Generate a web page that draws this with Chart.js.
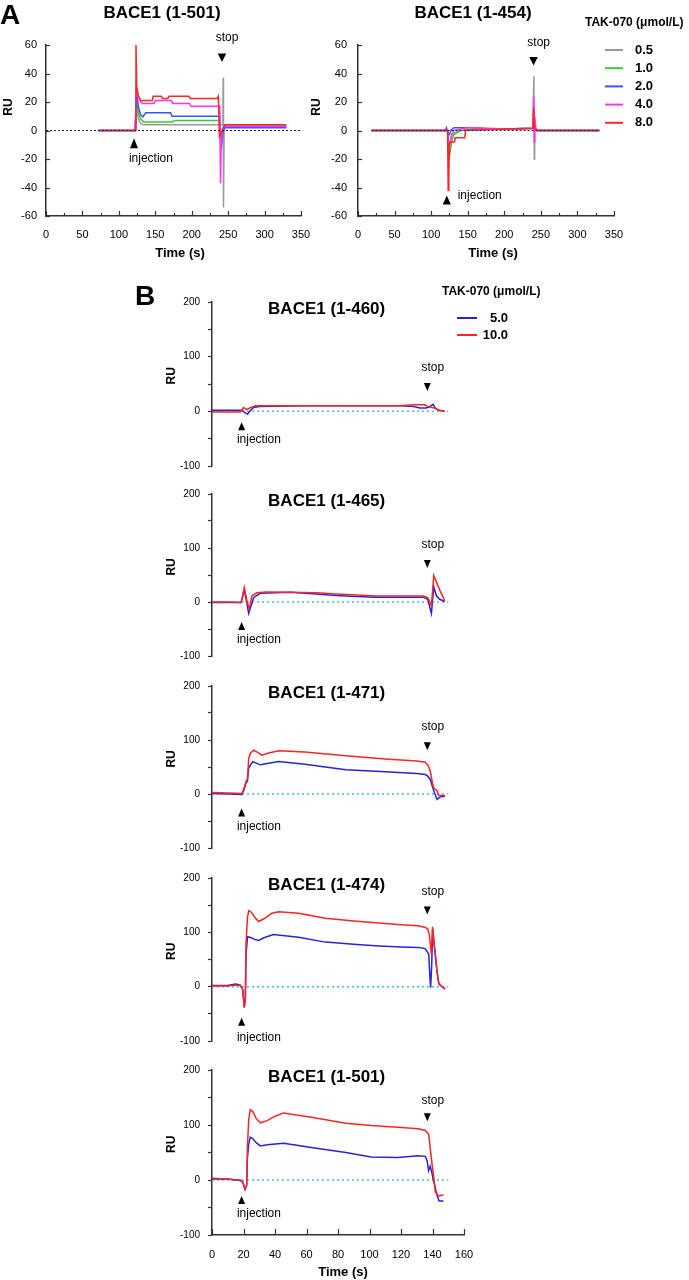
<!DOCTYPE html>
<html><head><meta charset="utf-8">
<script src="https://cdn.jsdelivr.net/npm/chart.js@4.4.0/dist/chart.umd.min.js"></script>
<style>
html,body{margin:0;padding:0;background:#fff;}
#page{position:relative;width:689px;height:1280px;overflow:hidden;background:#fff;}
canvas{position:absolute;}
</style></head><body>
<div id="page">
<canvas id="cA1" width="330" height="270" style="left:0px;top:0px"></canvas>
<canvas id="cA2" width="384" height="270" style="left:305px;top:0px"></canvas>
<canvas id="cB1" width="559" height="205" style="left:130px;top:275px"></canvas>
<canvas id="cB2" width="559" height="190" style="left:130px;top:480px"></canvas>
<canvas id="cB3" width="559" height="192" style="left:130px;top:670px"></canvas>
<canvas id="cB4" width="559" height="193" style="left:130px;top:862px"></canvas>
<canvas id="cB5" width="559" height="225" style="left:130px;top:1055px"></canvas>
</div>
<script>
const FONT = '"Liberation Sans", Arial, Helvetica, sans-serif';

// ---------- Panel A : TAK-070 concentrations (µmol/L) ----------
const concA = ['0.5', '1.0', '2.0', '4.0', '8.0'];
const colorsA = ['#9a9a9a', '#33cc33', '#3355ff', '#ff33ff', '#ff2626'];
const xTicksA = [0, 50, 100, 150, 200, 250, 300, 350];
const yTicksA = [-60, -40, -20, 0, 20, 40, 60];

// BACE1 (1-501), panel A
const a501_t_05 = [72, 100, 121, 122.5, 124, 125.5, 127, 130, 134, 150, 160, 239, 242.8, 243.2, 243.6, 244.5, 246, 280, 330];
const a501_v_05 = [0, 0, 0, 0, 18, 12, 8, 5, 4, 4, 4, 4, 4, 37, -54, 0, 3, 3, 3];
const a501_t_10 = [72, 100, 121, 122.5, 124, 125.5, 127, 130, 134, 174, 176, 238, 239, 240.5, 243, 246, 280, 330];
const a501_v_10 = [0, 0, 0, 0, 22, 17, 12, 8, 6, 6, 7, 7, -7, -2, 1, 3, 3, 3];
const a501_t_20 = [72, 100, 121, 122.5, 124, 125.5, 127, 130, 133, 137, 171, 173, 238.5, 239.5, 240.5, 242.5, 245, 280, 330];
const a501_v_20 = [0, 0, 0, 0, 26, 22, 16, 11, 9.5, 12.5, 12.5, 10, 10, -5, -13, -2, 2, 2, 2];
const a501_t_40 = [72, 100, 121, 122.5, 124, 125.5, 127, 130, 133, 148, 150, 172, 174, 197, 199, 238.5, 239.5, 240.5, 242, 245, 280, 330];
const a501_v_40 = [0, 0, 0, 0, 30, 26, 24, 20, 19, 19, 21, 21, 19, 19, 17, 17, -37, -10, 0, 3, 3, 3];
const a501_t_80 = [72, 100, 121, 122.5, 123.5, 124.5, 125.5, 127, 130, 146, 147, 158, 160, 167, 169, 196, 198, 235, 236.5, 238, 240, 242, 245, 250, 280, 330];
const a501_v_80 = [0, 0, 0, 0, 60, 31, 28, 24, 21, 21, 24, 24, 22.5, 22.5, 24, 24, 22.5, 22.5, 24, -4, -3, 0, 4, 4, 4, 4];
const a501_base_t = [0, 350];

// BACE1 (1-454), panel A
const a454_t_05 = [18.6, 120, 122.5, 123.5, 125, 127, 130, 140, 160, 200, 239, 240.5, 241, 241.5, 242.5, 245, 330];
const a454_v_05 = [0, 0, 0, -18, -12, -5, -2, 0, 1, 1, 1.5, 38, -20, 5, 1, 0, 0];
const a454_t_10 = [18.6, 120, 123, 124.5, 126, 128, 131, 140, 160, 200, 239, 240.5, 241.5, 243, 245, 330];
const a454_v_10 = [0, 0, 0, -20, -15, -8, -3, 0, 1, 1, 1.5, 8, 4, 1, 0, 0];
const a454_t_20 = [18.6, 119, 121, 123, 125, 127, 131, 140, 160, 180, 200, 220, 239, 240.5, 241.5, 243, 245, 330];
const a454_v_20 = [0, 0, 2, -3, -3, 0, 2, 2, 2, 1, 1, 1, 1.5, 5, 2, 1, 0, 0];
const a454_t_40 = [18.6, 120, 122.5, 124, 126, 128, 131, 140, 150, 160, 200, 239, 240.3, 241, 241.7, 243, 245, 330];
const a454_v_40 = [0, 0, 0, -13, -8, -3, 0, 1, 2, 2, 1, 1.5, 24, -8, 10, 2, 0, 0];
const a454_t_80 = [18.6, 120, 122.5, 123.3, 124.2, 125, 126, 132, 133, 146, 147, 200, 239, 240.3, 241, 242, 245, 330];
const a454_v_80 = [0, 0, 0, -42, -32, -10, -8, -8, -5, -5, 0, 1, 1.5, 16, 5, 1, 0, 0];
const a454_base_t = [18.6, 330];

// ---------- Panel B : TAK-070 5.0 and 10.0 µmol/L ----------
const concB = ['5.0', '10.0'];
const colorsB = ['#2424e0', '#ff2424'];
const xTicksB = [0, 20, 40, 60, 80, 100, 120, 140, 160];
const baseB_t = [0, 150];

// BACE1 (1-460)
const b460_t_5 = [0, 10, 18, 19.5, 21, 22.6, 24, 26.4, 30, 60, 90, 120, 128, 132, 136, 138, 140.4, 142, 144, 147];
const b460_v_5 = [2, 2, 2, 1, -3, -5, 0, 7, 9, 10, 10, 10, 9, 6, 6, 8, 13, 5, 2, 1];
const b460_t_10 = [0, 10, 18, 20, 22, 24, 27.4, 40, 60, 90, 120, 128, 135, 137, 141, 145, 148];
const b460_v_10 = [-1, -1, -1, 7, 3, 6, 10, 10, 10, 10, 10, 12, 12, 9, 6, 1, 0];

// BACE1 (1-465)
const b465_t_5 = [0, 10, 18.5, 20.5, 22, 23.3, 26.4, 30.6, 50, 66, 79, 92, 104, 134, 137, 139.3, 140.8, 142.5, 144.6, 147.8];
const b465_v_5 = [-1, -1, -1, 22, 0, -21, 8, 16, 18, 15, 12, 10, 9, 9, 5, -21, 28, 11, 5, 1];
const b465_t_10 = [0, 10, 18.5, 20.5, 22.2, 23.6, 25.3, 28.5, 34.8, 49.6, 66.5, 79, 92, 104, 134, 137, 139.3, 140.8, 142.5, 144.6, 147.8];
const b465_v_10 = [0, 0, -1, 27, 2, -13, 11, 17, 18.5, 18, 17, 15, 13, 11, 11, 8, -7, 49, 37, 22, 2];

// BACE1 (1-471)
const b471_t_5 = [0, 10, 19, 20.3, 21.5, 22.5, 23.3, 25.8, 30.7, 42.3, 59, 85, 110, 130, 135.4, 137, 138.6, 140.8, 142.9, 145, 148];
const b471_v_5 = [1, 0, -1, 8, 20, 24, 48, 60, 54, 60, 55, 45, 41, 38, 36, 33, 27, 6, -10, -5, -4];
const b471_t_10 = [0, 10, 19, 20.3, 21.5, 22.5, 23.3, 24.5, 26.5, 29, 31.7, 36, 42.3, 59, 85, 110, 130, 135.4, 137, 138.6, 140, 140.8, 142.9, 144, 148];
const b471_v_10 = [3, 2, 1, 10, 22, 28, 66, 76, 81, 77, 72, 76, 80, 78, 71, 65, 61, 59, 54, 42, 20, 11, 6, -3, -3];

// BACE1 (1-474)
const b474_t_5 = [0, 10, 15, 18, 19.5, 20.5, 21.2, 21.6, 22.6, 25, 27, 29.6, 33, 39, 55, 72, 90, 106, 120, 131, 135.4, 137.6, 138.3, 138.8, 139.5, 140.1, 141, 142, 143, 144, 146, 148];
const b474_v_5 = [2, 2, 5, 3, -5, -38, -20, 60, 92, 90, 87, 85, 90, 96, 91, 82, 78, 75, 73, 72, 70, 60, 20, -2, 40, 106, 80, 50, 25, 5, 0, -4];
const b474_t_10 = [0, 10, 15, 18, 19.5, 20.5, 21.2, 21.6, 22.5, 23.3, 25, 27, 29.6, 33, 38, 42.3, 55, 72, 90, 106, 120, 131, 135.4, 137, 138, 138.6, 139.3, 140, 141, 142, 143, 144, 146, 148];
const b474_v_10 = [1, 1, 3, 2, -5, -38, -20, 80, 127, 140, 137, 128, 120, 125, 135, 138, 135, 126, 121, 117, 114, 112, 109, 106, 95, 79, 60, 110, 80, 55, 25, 7, 0, -4];

// BACE1 (1-501), panel B
const b501_t_5 = [0, 10, 15, 18, 19.5, 21, 22, 22.5, 23.3, 24.3, 26, 28, 30.7, 35, 45.5, 63, 85, 101, 118, 131, 135.4, 136.6, 137.5, 138.5, 139.5, 140.5, 141.2, 142.9, 144.2, 147];
const b501_v_5 = [2, 2, 0, -1, -4, -17, -10, 40, 65, 78, 75, 68, 62, 64, 67, 59, 50, 42, 41, 44, 43, 35, 17, 25, 15, 0, -7, -28, -38, -38];
const b501_t_10 = [0, 10, 15, 18, 19.5, 21, 22, 22.5, 23.3, 24.3, 26, 28, 30.7, 35, 40, 45.5, 63, 85, 101, 118, 131, 135.4, 137.6, 139.7, 140.8, 141.8, 143.9, 147];
const b501_v_10 = [3, 2, 0, 0, -3, -17, -10, 60, 110, 128, 124, 112, 104, 108, 116, 122, 114, 103, 99, 96, 93, 90, 83, 29, 5, -22, -29, -27];

// ---------- helpers ----------
function pts(ts, vs) { return ts.map((t, i) => ({ x: t, y: vs[i] })); }
function line(label, ts, vs, color, extra) {
  return Object.assign({ label, data: pts(ts, vs), borderColor: color, backgroundColor: color,
    borderWidth: 1.5, pointRadius: 0, tension: 0, fill: false }, extra || {});
}
function baseline(ts, color, dash, width) {
  return { label: 'baseline', data: ts.map(t => ({ x: t, y: 0 })), borderColor: color,
    borderWidth: width, borderDash: dash, pointRadius: 0, fill: false };
}
function txt(ctx, s, x, y, font, align, base) {
  ctx.font = font; ctx.textAlign = align || 'center'; ctx.textBaseline = base || 'middle';
  ctx.fillStyle = '#000'; ctx.fillText(s, x, y);
}
function tri(ctx, x, yTip, up, w, h) {
  ctx.beginPath();
  if (up) { ctx.moveTo(x, yTip); ctx.lineTo(x - w / 2, yTip + h); ctx.lineTo(x + w / 2, yTip + h); }
  else { ctx.moveTo(x, yTip); ctx.lineTo(x - w / 2, yTip - h); ctx.lineTo(x + w / 2, yTip - h); }
  ctx.closePath(); ctx.fillStyle = '#000'; ctx.fill();
}

function decor(d) {
  return {
    id: 'decor',
    afterDraw(chart) {
      const ctx = chart.ctx, xs = chart.scales.x, ys = chart.scales.y, ca = chart.chartArea;
      ctx.save();
      ctx.strokeStyle = '#333'; ctx.lineWidth = 1.2;
      if (d.xTicksIn) {
        for (let v = xs.min; v <= xs.max + 1e-9; v += d.xTicksIn.step) {
          const px = Math.round(xs.getPixelForValue(v)) + 0.5;
          const len = (Math.abs(v % d.xTicksIn.major) < 1e-9) ? d.xTicksIn.long : d.xTicksIn.short;
          ctx.beginPath(); ctx.moveTo(px, ca.bottom); ctx.lineTo(px, ca.bottom - len); ctx.stroke();
        }
      }
      if (d.yTicksIn) {
        for (let v = ys.min; v <= ys.max + 1e-9; v += d.yTicksIn.step) {
          const py = Math.round(ys.getPixelForValue(v)) + 0.5;
          ctx.beginPath(); ctx.moveTo(ca.left, py); ctx.lineTo(ca.left + d.yTicksIn.len, py); ctx.stroke();
        }
      }
      const tx = d.titleX != null ? d.titleX : xs.getPixelForValue(d.titleT);
      const ty = d.titleY != null ? d.titleY : ys.getPixelForValue(d.titleRU);
      txt(ctx, d.title, tx, ty, 'bold 17px ' + FONT);
      tri(ctx, xs.getPixelForValue(d.inj.t), ys.getPixelForValue(d.inj.tip), true, d.inj.w, d.inj.h);
      txt(ctx, 'injection', xs.getPixelForValue(d.injText.t), ys.getPixelForValue(d.injText.ru), '12px ' + FONT);
      tri(ctx, xs.getPixelForValue(d.stop.t), ys.getPixelForValue(d.stop.tip), false, d.stop.w, d.stop.h);
      txt(ctx, 'stop', xs.getPixelForValue(d.stopText.t), ys.getPixelForValue(d.stopText.ru), '12px ' + FONT);
      const ry = d.ruY != null ? d.ruY : ys.getPixelForValue(d.ruRU);
      ctx.save(); ctx.translate(d.ruX, ry); ctx.rotate(-Math.PI / 2);
      txt(ctx, 'RU', 0, 0, 'bold 12px ' + FONT); ctx.restore();
      if (d.timeX != null) txt(ctx, 'Time (s)', d.timeX, d.timeY, 'bold 13px ' + FONT);
      if (d.letter) txt(ctx, d.letter.s, d.letter.x, d.letter.y, 'bold 28px ' + FONT, 'left', 'alphabetic');
      if (d.legend) {
        const L = d.legend;
        txt(ctx, 'TAK-070 (μmol/L)', L.titleX, L.titleY, 'bold 12px ' + FONT, 'left');
        L.labels.forEach((s, i) => {
          const y = L.y0 + i * L.dy;
          ctx.strokeStyle = L.colors[i]; ctx.lineWidth = 2;
          ctx.beginPath(); ctx.moveTo(L.x1, y); ctx.lineTo(L.x2, y); ctx.stroke();
          txt(ctx, s, L.textX, y, 'bold 13px ' + FONT, L.align);
        });
      }
      ctx.restore();
    }
  };
}

function axisCommon(extra) {
  return Object.assign({
    type: 'linear',
    grid: { display: true, drawOnChartArea: false, drawTicks: false, color: '#333' },
    border: { display: true, color: '#333', width: 1.5 }
  }, extra);
}

function makeChart(id, datasets, o) {
  return new Chart(document.getElementById(id), {
    type: 'line',
    data: { datasets },
    options: {
      responsive: false, animation: false, devicePixelRatio: 1,
      layout: { padding: o.padding },
      plugins: { legend: { display: false }, tooltip: { enabled: false }, title: { display: false } },
      scales: { x: o.x, y: o.y }
    },
    plugins: [decor(o.decor)]
  });
}

// ---------- Panel A charts ----------
function xA(h) {
  return axisCommon({ min: 0, max: 350, afterFit(s) { s.height = h; },
    afterBuildTicks(s) { s.ticks = xTicksA.map(v => ({ value: v })); },
    ticks: { color: '#000', font: { size: 11, family: FONT }, padding: 12, maxRotation: 0, autoSkip: false } });
}
function yA(w, pad) {
  return axisCommon({ min: -60, max: 60, afterFit(s) { s.width = w; },
    afterBuildTicks(s) { s.ticks = yTicksA.map(v => ({ value: v })); },
    ticks: { color: '#000', font: { size: 11, family: FONT }, padding: pad } });
}

makeChart('cA1', [
  baseline(a501_base_t, '#222', [2, 2], 1.2),
  line(concA[4], a501_t_80, a501_v_80, colorsA[4]),
  line(concA[3], a501_t_40, a501_v_40, colorsA[3]),
  line(concA[2], a501_t_20, a501_v_20, colorsA[2]),
  line(concA[1], a501_t_10, a501_v_10, colorsA[1]),
  line(concA[0], a501_t_05, a501_v_05, colorsA[0])
], {
  padding: { left: 0, top: 45, right: 29, bottom: 0 },
  x: xA(54), y: yA(46, 9),
  decor: {
    title: 'BACE1 (1-501)', titleX: 162, titleY: 13,
    inj: { t: 120.8, tip: -5.4, w: 8, h: 10 }, injText: { t: 144, ru: -19.6 },
    stop: { t: 241.6, tip: 48, w: 8.5, h: 8.5 }, stopText: { t: 248.4, ru: 65.3 },
    ruX: 9, ruY: 107, timeX: 180, timeY: 253,
    xTicksIn: { step: 25, major: 50, long: 5, short: 3 }, yTicksIn: { step: 20, len: 4 },
    letter: { s: 'A', x: 0, y: 24 }
  }
});

makeChart('cA2', [
  baseline(a454_base_t, '#222', [2, 2], 1.2),
  line(concA[4], a454_t_80, a454_v_80, colorsA[4]),
  line(concA[3], a454_t_40, a454_v_40, colorsA[3]),
  line(concA[2], a454_t_20, a454_v_20, colorsA[2]),
  line(concA[1], a454_t_10, a454_v_10, colorsA[1]),
  line(concA[0], a454_t_05, a454_v_05, colorsA[0])
], {
  padding: { left: 0, top: 45, right: 75, bottom: 0 },
  x: xA(54), y: yA(53, 11),
  decor: {
    title: 'BACE1 (1-454)', titleX: 168, titleY: 13,
    inj: { t: 121.4, tip: -45.6, w: 8, h: 9 }, injText: { t: 166.4, ru: -45.6 },
    stop: { t: 240, tip: 45.6, w: 8.5, h: 8.5 }, stopText: { t: 247, ru: 61.8 },
    ruX: 12, ruY: 107, timeX: 188, timeY: 253,
    xTicksIn: { step: 25, major: 50, long: 5, short: 3 }, yTicksIn: { step: 20, len: 4 },
    legend: { titleX: 280, titleY: 23, x1: 300, x2: 318, textX: 330, align: 'left',
      y0: 50, dy: 18.2, labels: concA, colors: colorsA }
  }
});

// ---------- Panel B charts ----------
function xB(show) {
  const ax = axisCommon({ display: show, min: 0, max: 160,
    afterBuildTicks(s) { s.ticks = xTicksB.map(v => ({ value: v })); },
    ticks: { color: '#000', font: { size: 11, family: FONT }, padding: 13, maxRotation: 0, autoSkip: false } });
  if (show) ax.afterFit = s => { s.height = 45; };
  return ax;
}
function yB() {
  return axisCommon({ min: -100, max: 200, afterFit(s) { s.width = 82; },
    grid: { display: true, drawOnChartArea: false, drawTicks: true, tickLength: 4, color: '#333', tickWidth: 1.2 },
    ticks: { stepSize: 50, color: '#000', font: { size: 10, family: FONT }, padding: 8,
      callback: v => (v % 100 === 0 ? String(v) : '') } });
}
function bChart(id, title, t5, v5, t10, v10, pad, ann, extra) {
  makeChart(id, [
    line(concB[1], t10, v10, colorsB[1]),
    line(concB[0], t5, v5, colorsB[0]),
    baseline(baseB_t, '#3cc0ea', [2, 3], 1.5)
  ], {
    padding: pad, x: xB(!!(extra && extra.showX)), y: yB(),
    decor: Object.assign({
      title, titleT: 72.8, titleRU: 187,
      inj: { t: 18.8, tip: ann.injTip, w: 7, h: 8 }, injText: { t: 29.8, ru: ann.injText },
      stop: { t: 136.7, tip: ann.stopTip, w: 7, h: 8 }, stopText: { t: 140.2, ru: ann.stopText },
      ruX: 41.7, ruRU: 65
    }, extra || {})
  });
}

bChart('cB1', 'BACE1 (1-460)', b460_t_5, b460_v_5, b460_t_10, b460_v_10,
  { left: 0, top: 27, right: 225, bottom: 13 },
  { injTip: -20, injText: -52, stopTip: 37, stopText: 79 },
  { letter: { s: 'B', x: 5, y: 30 },
    legend: { titleX: 312, titleY: 17, x1: 327, x2: 347, textX: 378, align: 'right',
      y0: 43, dy: 17, labels: concB, colors: colorsB } });

bChart('cB2', 'BACE1 (1-465)', b465_t_5, b465_v_5, b465_t_10, b465_v_10,
  { left: 0, top: 13, right: 225, bottom: 12 },
  { injTip: -37, injText: -70, stopTip: 63, stopText: 106 });

bChart('cB3', 'BACE1 (1-471)', b471_t_5, b471_v_5, b471_t_10, b471_v_10,
  { left: 0, top: 16, right: 225, bottom: 11 },
  { injTip: -27, injText: -61, stopTip: 81, stopText: 124 });

bChart('cB4', 'BACE1 (1-474)', b474_t_5, b474_v_5, b474_t_10, b474_v_10,
  { left: 0, top: 16, right: 225, bottom: 12 },
  { injTip: -57, injText: -93, stopTip: 133, stopText: 174 });

bChart('cB5', 'BACE1 (1-501)', b501_t_5, b501_v_5, b501_t_10, b501_v_10,
  { left: 0, top: 15, right: 225, bottom: 0 },
  { injTip: -29, injText: -61, stopTip: 107, stopText: 145 },
  { showX: true, timeX: 213, timeY: 217.7, xTicksIn: { step: 20, major: 20, long: 6, short: 6 } });
</script>
</body></html>
